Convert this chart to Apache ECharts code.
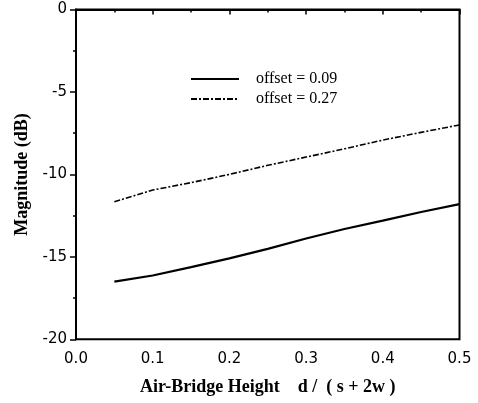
<!DOCTYPE html>
<html>
<head>
<meta charset="utf-8">
<script src="https://cdn.jsdelivr.net/npm/echarts@6/dist/echarts.min.js"></script>
<style>
  html, body { margin: 0; padding: 0; background: #fff; }
  #main { width: 478px; height: 403px; }
</style>
</head>
<body>
<div id="main"></div>
<script>
// d / (s + 2w)
var heights = [0.05, 0.1, 0.15, 0.2, 0.25, 0.3, 0.35, 0.4, 0.45, 0.5];
// offset = 0.09
var mag009 = [-16.5, -16.13, -15.62, -15.09, -14.52, -13.89, -13.31, -12.8, -12.28, -11.8];
// offset = 0.27
var mag027 = [-11.66, -10.95, -10.5, -10.0, -9.45, -8.95, -8.45, -7.92, -7.45, -7.0];

function pairs(xs, ys) {
  return xs.map(function (x, i) { return [x, ys[i]]; });
}

var chart = echarts.init(document.getElementById('main'), null, { renderer: 'canvas' });

var option = {
  animation: false,
  backgroundColor: '#fff',
  grid: {
    left: 76,
    right: 18.5,
    top: 9.5,
    bottom: 63.7,
    show: true,
    borderColor: '#000',
    borderWidth: 2
  },
  legend: {
    orient: 'vertical',
    left: 185,
    top: 66,
    itemWidth: 48,
    itemHeight: 10,
    itemGap: 4,
    itemStyle: { opacity: 0 },
    textStyle: {
      fontFamily: 'Liberation Serif',
      fontSize: 16,
      color: '#000',
      padding: [0, 0, 0, 12]
    },
    data: ['offset = 0.09', 'offset = 0.27']
  },
  xAxis: {
    type: 'value',
    min: 0,
    max: 0.5,
    interval: 0.1,
    name: 'Air-Bridge Height    d /  ( s + 2w )',
    nameLocation: 'middle',
    nameGap: 39,
    nameTextStyle: {
      fontFamily: 'Liberation Serif',
      fontWeight: 'bold',
      fontSize: 18,
      color: '#000'
    },
    axisLine: { lineStyle: { color: '#000', width: 2 } },
    axisTick: { show: true, length: 5, lineStyle: { color: '#000', width: 1.5 } },
    minorTick: { show: true, splitNumber: 2, length: 3, lineStyle: { color: '#000', width: 1.5 } },
    splitLine: { show: false },
    axisLabel: {
      margin: 12,
      fontFamily: 'DejaVu Sans',
      fontSize: 15,
      color: '#000',
      formatter: function (v) { return v.toFixed(1); }
    }
  },
  yAxis: {
    type: 'value',
    min: -20,
    max: 0,
    interval: 5,
    name: 'Magnitude (dB)',
    nameLocation: 'middle',
    nameGap: 44,
    nameTextStyle: {
      fontFamily: 'Liberation Serif',
      fontWeight: 'bold',
      fontSize: 18,
      color: '#000'
    },
    axisLine: { lineStyle: { color: '#000', width: 2 } },
    axisTick: { show: true, length: 6, lineStyle: { color: '#000', width: 1.5 } },
    minorTick: { show: true, splitNumber: 2, length: 3, lineStyle: { color: '#000', width: 1.5 } },
    splitLine: { show: false },
    axisLabel: {
      margin: 9,
      padding: [6, 0, 0, 0],
      fontFamily: 'DejaVu Sans',
      fontSize: 15,
      color: '#000'
    }
  },
  series: [
    {
      name: 'offset = 0.09',
      type: 'line',
      symbol: 'none',
      data: pairs(heights, mag009),
      lineStyle: { color: '#000', width: 2.2 },
      itemStyle: { color: '#000' }
    },
    {
      name: 'offset = 0.27',
      type: 'line',
      symbol: 'none',
      data: pairs(heights, mag027),
      lineStyle: { color: '#000', width: 1.6, type: [6, 2, 2, 2] },
      itemStyle: { color: '#000' }
    }
  ]
};

chart.setOption(option);
</script>
</body>
</html>
